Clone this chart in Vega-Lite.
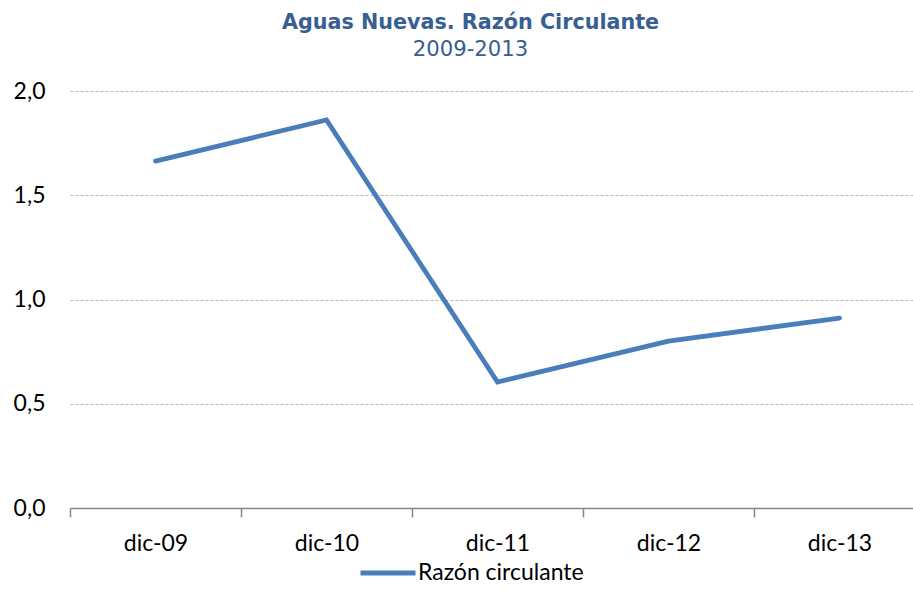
{
  "$schema": "https://vega.github.io/schema/vega-lite/v6.json",
  "autosize": {"type": "none"},
  "padding": {"left": 70, "top": 91, "right": 0, "bottom": 101},
  "width": 843,
  "height": 417,
  "background": "white",
  "title": {
    "text": "Aguas Nuevas. Razón Circulante",
    "subtitle": "2009-2013",
    "font": "DejaVu Sans",
    "fontSize": 20.7,
    "fontWeight": "bold",
    "color": "#375F92",
    "subtitleFont": "DejaVu Sans",
    "subtitleFontSize": 21.2,
    "subtitleColor": "#375F92",
    "subtitlePadding": 5,
    "anchor": "middle",
    "dx": -21,
    "offset": 19
  },
  "data": {
    "values": [
      {"fecha": "dic-09", "serie": "Razón circulante", "valor": 1.664},
      {"fecha": "dic-10", "serie": "Razón circulante", "valor": 1.861},
      {"fecha": "dic-11", "serie": "Razón circulante", "valor": 0.604},
      {"fecha": "dic-12", "serie": "Razón circulante", "valor": 0.80},
      {"fecha": "dic-13", "serie": "Razón circulante", "valor": 0.911}
    ]
  },
  "mark": {"type": "line", "strokeWidth": 4.8, "strokeCap": "round"},
  "encoding": {
    "x": {
      "field": "fecha",
      "type": "ordinal",
      "sort": null,
      "scale": {"type": "band", "range": [0, 855], "paddingInner": 0, "paddingOuter": 0},
      "axis": {
        "title": null,
        "labelAngle": 0,
        "labelFont": "Lato",
        "labelFontSize": 23,
        "labelColor": "#000000",
        "labelPadding": 15,
        "domainColor": "#868686",
        "domainWidth": 1.5,
        "ticks": true,
        "tickBand": "extent",
        "tickColor": "#868686",
        "tickWidth": 1.5,
        "tickSize": 9,
        "grid": false
      }
    },
    "y": {
      "field": "valor",
      "type": "quantitative",
      "scale": {"domain": [0, 2], "nice": false, "zero": true},
      "axis": {
        "title": null,
        "values": [0, 0.5, 1, 1.5, 2],
        "labelExpr": "replace(format(datum.value, '.1f'), '.', ',')",
        "labelFont": "Lato",
        "labelFontSize": 23,
        "labelColor": "#000000",
        "labelPadding": 25,
        "ticks": false,
        "tickSize": 0,
        "domain": false,
        "grid": true,
        "gridColor": "#B8B8B8",
        "gridDash": [3, 2],
        "gridWidth": 1.2
      }
    },
    "color": {
      "field": "serie",
      "type": "nominal",
      "scale": {"range": ["#4A7EBB"]},
      "legend": {
        "title": null,
        "orient": "none",
        "legendX": 288,
        "legendY": 452,
        "symbolType": "stroke",
        "symbolSize": 3025,
        "symbolStrokeWidth": 4.8,
        "labelFont": "Lato",
        "labelFontSize": 23,
        "labelColor": "#000000",
        "labelOffset": 0,
        "labelLimit": 400
      }
    }
  },
  "config": {"view": {"stroke": null}}
}
